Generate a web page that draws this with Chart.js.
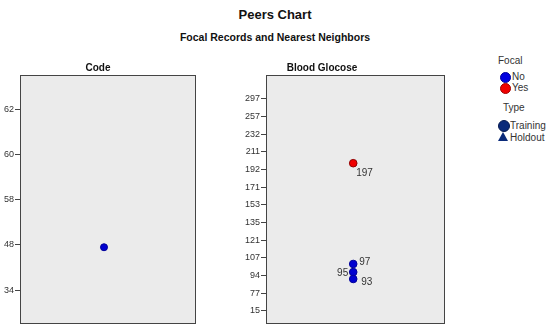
<!DOCTYPE html>
<html>
<head>
<meta charset="utf-8">
<script src="https://cdn.jsdelivr.net/npm/chart.js@4"></script>
<style>
body { margin: 0; background: #fff; width: 550px; height: 333px; overflow: hidden; font-family: "Liberation Sans", Arial, sans-serif; color: #111; }
.abs { position: absolute; white-space: nowrap; }
#title { left: 0; width: 550px; top: 7px; text-align: center; font-weight: bold; font-size: 13px; }
#subtitle { left: 0; width: 550px; top: 31px; text-align: center; font-weight: bold; font-size: 10.5px; }
.leg { font-size: 10px; color: #333; }
.dot { position: absolute; border-radius: 50%; }
.tri { position: absolute; width: 0; height: 0; border-left: 5px solid transparent; border-right: 5px solid transparent; border-bottom: 9px solid #0a2a7a; }
canvas { position: absolute; }
</style>
</head>
<body>
<div class="abs" id="title">Peers Chart</div>
<div class="abs" id="subtitle">Focal Records and Nearest Neighbors</div>

<canvas id="codeChart" width="200" height="278" style="left:0;top:55px"></canvas>
<canvas id="glucoseChart" width="250" height="278" style="left:200px;top:55px"></canvas>

<!-- legend -->
<div class="abs leg" style="left:498px;top:55px">Focal</div>
<div class="dot" style="left:500px;top:72px;width:9px;height:9px;background:#0000e0;border:1px solid #00009a"></div>
<div class="abs leg" style="left:512px;top:71px">No</div>
<div class="dot" style="left:500px;top:83px;width:9px;height:9px;background:#f00000;border:1px solid #a00000"></div>
<div class="abs leg" style="left:512px;top:82px">Yes</div>
<div class="abs leg" style="left:503px;top:102px">Type</div>
<div class="dot" style="left:498px;top:120px;width:10px;height:10px;background:#0a2a7a;border:1px solid #061a50"></div>
<div class="abs leg" style="left:510px;top:120px">Training</div>
<div class="tri" style="left:498px;top:132px"></div>
<div class="abs leg" style="left:510px;top:132px">Holdout</div>

<script>
// ordinal tick labels, bottom to top (equally spaced on the axis)
const codeTicks = ['34', '48', '58', '60', '62'];
const glucoseTicks = ['15', '77', '94', '107', '121', '135', '153', '171', '192', '211', '232', '257', '297'];

// point positions, in tick steps above the bottom tick
const codePos = [0.95];
const glucosePos = [8.36, 2.66, 2.2, 1.81];
const glucoseLabels = ['197', '97', '95', '93'];
const glucoseFocal = [true, false, false, false];
const labelSide = ['below', 'right', 'left', 'rightLow'];

const font = '"Liberation Sans", Arial, sans-serif';

// gray panel with a dark frame
const panelPlugin = {
    id: 'panel',
    beforeDraw(chart) {
        const a = chart.chartArea, ctx = chart.ctx;
        ctx.save();
        ctx.fillStyle = '#ebebeb';
        ctx.fillRect(a.left, a.top, a.right - a.left, a.bottom - a.top);
        ctx.restore();
    },
    afterDraw(chart) {
        const a = chart.chartArea, ctx = chart.ctx;
        ctx.save();
        ctx.strokeStyle = '#444';
        ctx.lineWidth = 1;
        ctx.strokeRect(Math.round(a.left) + 0.5, Math.round(a.top) + 0.5, Math.round(a.right - a.left), Math.round(a.bottom - a.top));
        ctx.restore();
    }
};

// value labels next to the points
const pointLabels = {
    id: 'pointLabels',
    afterDatasetsDraw(chart) {
        if (chart.canvas.id !== 'glucoseChart') return;
        const ctx = chart.ctx;
        ctx.save();
        ctx.font = '10px ' + font;
        ctx.fillStyle = '#333';
        ctx.textBaseline = 'middle';
        chart.data.datasets.forEach((ds, di) => {
            chart.getDatasetMeta(di).data.forEach((el, i) => {
                const idx = ds.srcIndex[i];
                const side = labelSide[idx];
                let x = el.x, y = el.y;
                ctx.textAlign = 'left';
                if (side === 'below') { x += 3; y += 10; }
                else if (side === 'right') { x += 6; y -= 2; }
                else if (side === 'rightLow') { x += 8; y += 3; }
                else { ctx.textAlign = 'right'; x -= 5; y += 1; }
                ctx.fillText(glucoseLabels[idx], x, y);
            });
        });
        ctx.restore();
    }
};

function yAxis(ticks, min, max, width) {
    return {
        min: min,
        max: max,
        afterBuildTicks(scale) {
            scale.ticks = ticks.map((t, i) => ({ value: i }));
        },
        afterFit(scale) { scale.width = width; },
        ticks: {
            callback: (v) => ticks[v],
            color: '#333',
            font: { family: font, size: 9 },
            padding: 1,
            autoSkip: false
        },
        grid: { drawOnChartArea: false, tickLength: 5, color: '#444' },
        border: { display: false }
    };
}

function panelOptions(title, ticks, min, max, axisWidth, padRight) {
    return {
        responsive: false,
        animation: false,
        layout: { padding: { top: 0, right: padRight, bottom: 10, left: 0 } },
        plugins: {
            legend: { display: false },
            tooltip: { enabled: false },
            title: {
                display: true,
                text: title,
                color: '#111',
                font: { family: font, size: 10, weight: 'bold' },
                padding: { top: 7, bottom: 1 }
            }
        },
        scales: {
            x: { type: 'linear', min: 0, max: 1, display: false },
            y: yAxis(ticks, min, max, axisWidth)
        }
    };
}

new Chart(document.getElementById('codeChart'), {
    type: 'scatter',
    data: {
        datasets: [{
            data: codePos.map(p => ({ x: 0.48, y: p })),
            backgroundColor: '#0000d0',
            borderColor: '#00009a',
            borderWidth: 1,
            pointRadius: 3.5
        }]
    },
    options: panelOptions('Code', codeTicks, -0.73, 4.77, 20, 4),
    plugins: [panelPlugin]
});

const focalIdx = glucosePos.map((p, i) => i).filter(i => glucoseFocal[i]);
const peerIdx = glucosePos.map((p, i) => i).filter(i => !glucoseFocal[i]);

new Chart(document.getElementById('glucoseChart'), {
    type: 'scatter',
    data: {
        datasets: [{
            data: peerIdx.map(i => ({ x: 0.49, y: glucosePos[i] })),
            srcIndex: peerIdx,
            backgroundColor: '#0000d0',
            borderColor: '#00009a',
            borderWidth: 1,
            pointRadius: 3.8
        }, {
            data: focalIdx.map(i => ({ x: 0.49, y: glucosePos[i] })),
            srcIndex: focalIdx,
            backgroundColor: '#f00000',
            borderColor: '#900000',
            borderWidth: 1,
            pointRadius: 3.8
        }]
    },
    options: panelOptions('Blood Glocose', glucoseTicks, -0.68, 13.35, 66, 6),
    plugins: [panelPlugin, pointLabels]
});
</script>
</body>
</html>
